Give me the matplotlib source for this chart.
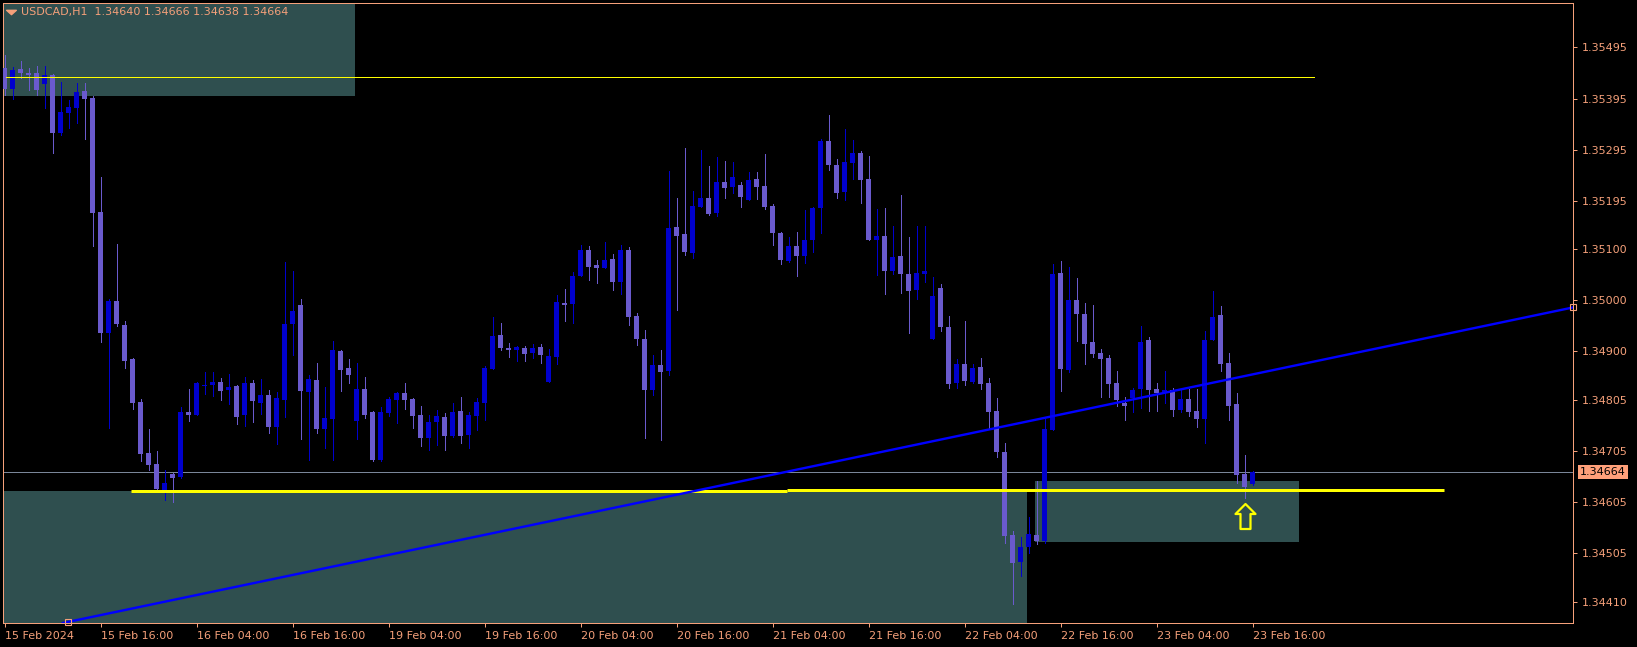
import matplotlib
matplotlib.use("Agg")
import matplotlib.pyplot as plt
import matplotlib.transforms as mtransforms
from matplotlib.path import Path
from matplotlib.patches import Rectangle
import numpy as np

# ---------------- data (USDCAD H1) ----------------
opens = [1.35455, 1.35414, 1.35453, 1.35445, 1.35445, 1.35424, 1.35441, 1.35328, 1.35367, 1.35377,
         1.35410, 1.35396, 1.35173, 1.34936, 1.34998, 1.34951, 1.34884, 1.34800, 1.34700, 1.34680,
         1.34628, 1.34659, 1.34654, 1.34781, 1.34775, 1.34833, 1.34835, 1.34839, 1.34824, 1.34833,
         1.34775, 1.34837, 1.34798, 1.34814, 1.34751, 1.34805, 1.34954, 1.34990, 1.34820, 1.34843,
         1.34747, 1.34767, 1.34900, 1.34867, 1.34763, 1.34826, 1.34781, 1.34688, 1.34779, 1.34804,
         1.34818, 1.34806, 1.34775, 1.34730, 1.34761, 1.34771, 1.34735, 1.34784, 1.34737, 1.34773,
         1.34798, 1.34865, 1.34931, 1.34906, 1.34902, 1.34906, 1.34896, 1.34908, 1.34839, 1.34888,
         1.34994, 1.34993, 1.35048, 1.35098, 1.35069, 1.35063, 1.35080, 1.35036, 1.35098, 1.34969,
         1.34924, 1.34824, 1.34873, 1.34861, 1.35143, 1.35129, 1.35092, 1.35182, 1.35200, 1.35171,
         1.35231, 1.35221, 1.35225, 1.35197, 1.35237, 1.35223, 1.35184, 1.35131, 1.35076, 1.35106,
         1.35087, 1.35118, 1.35181, 1.35312, 1.35265, 1.35212, 1.35268, 1.35288, 1.35237, 1.35118,
         1.35125, 1.35057, 1.35086, 1.35051, 1.35020, 1.35051, 1.34924, 1.35024, 1.34947, 1.34838,
         1.34875, 1.34840, 1.34869, 1.34837, 1.34784, 1.34702, 1.34541, 1.34487, 1.34517, 1.34541,
         1.34528, 1.34746, 1.35053, 1.34863, 1.35000, 1.34973, 1.34918, 1.34896, 1.34886, 1.34837,
         1.34799, 1.34808, 1.34826, 1.34922, 1.34826, 1.34818, 1.34824, 1.34785, 1.34806, 1.34784,
         1.34767, 1.34922, 1.34971, 1.34877, 1.34796, 1.34659, 1.34640]
highs = [1.35480, 1.35456, 1.35468, 1.35455, 1.35459, 1.35459, 1.35443, 1.35427, 1.35392, 1.35425,
         1.35425, 1.35400, 1.35241, 1.35003, 1.35110, 1.34959, 1.34886, 1.34806, 1.34747, 1.34704,
         1.34667, 1.34661, 1.34790, 1.34826, 1.34839, 1.34859, 1.34859, 1.34847, 1.34855, 1.34835,
         1.34849, 1.34843, 1.34845, 1.34824, 1.34820, 1.35075, 1.35057, 1.35002, 1.34853, 1.34878,
         1.34830, 1.34920, 1.34902, 1.34884, 1.34878, 1.34849, 1.34784, 1.34790, 1.34810, 1.34820,
         1.34837, 1.34808, 1.34792, 1.34775, 1.34786, 1.34779, 1.34798, 1.34810, 1.34781, 1.34808,
         1.34871, 1.34967, 1.34955, 1.34916, 1.34910, 1.34910, 1.34914, 1.34914, 1.34904, 1.35010,
         1.35022, 1.35055, 1.35108, 1.35106, 1.35078, 1.35114, 1.35090, 1.35108, 1.35104, 1.34975,
         1.34941, 1.34892, 1.34902, 1.35253, 1.35200, 1.35298, 1.35214, 1.35294, 1.35263, 1.35280,
         1.35272, 1.35270, 1.35231, 1.35251, 1.35251, 1.35286, 1.35188, 1.35133, 1.35124, 1.35133,
         1.35176, 1.35182, 1.35316, 1.35363, 1.35276, 1.35335, 1.35314, 1.35292, 1.35282, 1.35178,
         1.35180, 1.35145, 1.35206, 1.35124, 1.35145, 1.35145, 1.35045, 1.35031, 1.34969, 1.34884,
         1.34959, 1.34875, 1.34886, 1.34847, 1.34808, 1.34720, 1.34549, 1.34537, 1.34575, 1.34647,
         1.34767, 1.35071, 1.35076, 1.35065, 1.35043, 1.34994, 1.34990, 1.34904, 1.34892, 1.34861,
         1.34810, 1.34828, 1.34949, 1.34928, 1.34837, 1.34861, 1.34828, 1.34824, 1.34826, 1.34826,
         1.34939, 1.35018, 1.34988, 1.34896, 1.34818, 1.34696, 1.34666]
lows = [1.35402, 1.35395, 1.35435, 1.35412, 1.35402, 1.35377, 1.35289, 1.35324, 1.35338, 1.35348,
        1.35316, 1.35106, 1.34918, 1.34750, 1.34950, 1.34867, 1.34787, 1.34685, 1.34667, 1.34624,
        1.34608, 1.34604, 1.34651, 1.34763, 1.34775, 1.34816, 1.34812, 1.34805, 1.34797, 1.34757,
        1.34754, 1.34761, 1.34777, 1.34741, 1.34718, 1.34771, 1.34892, 1.34728, 1.34688, 1.34741,
        1.34710, 1.34688, 1.34822, 1.34837, 1.34728, 1.34769, 1.34686, 1.34686, 1.34773, 1.34759,
        1.34788, 1.34749, 1.34714, 1.34706, 1.34716, 1.34706, 1.34732, 1.34720, 1.34710, 1.34745,
        1.34765, 1.34865, 1.34902, 1.34888, 1.34882, 1.34882, 1.34886, 1.34878, 1.34839, 1.34875,
        1.34959, 1.34955, 1.35048, 1.35039, 1.35033, 1.35063, 1.35020, 1.35012, 1.34951, 1.34912,
        1.34730, 1.34814, 1.34726, 1.34853, 1.34980, 1.35089, 1.35083, 1.35182, 1.35167, 1.35165,
        1.35200, 1.35210, 1.35182, 1.35197, 1.35198, 1.35178, 1.35108, 1.35071, 1.35075, 1.35047,
        1.35073, 1.35095, 1.35132, 1.35255, 1.35200, 1.35197, 1.35237, 1.35191, 1.35118, 1.35049,
        1.35012, 1.35051, 1.35014, 1.34936, 1.35003, 1.35036, 1.34924, 1.34940, 1.34828, 1.34828,
        1.34834, 1.34838, 1.34826, 1.34750, 1.34693, 1.34524, 1.34406, 1.34460, 1.34505, 1.34522,
        1.34524, 1.34746, 1.34822, 1.34860, 1.34920, 1.34875, 1.34889, 1.34810, 1.34810, 1.34793,
        1.34765, 1.34781, 1.34789, 1.34783, 1.34783, 1.34799, 1.34773, 1.34781, 1.34773, 1.34752,
        1.34720, 1.34922, 1.34861, 1.34765, 1.34642, 1.34613, 1.34638]
closes = [1.35414, 1.35451, 1.35444, 1.35442, 1.35412, 1.35441, 1.35328, 1.35369, 1.35378, 1.35408,
          1.35395, 1.35171, 1.34936, 1.34998, 1.34954, 1.34881, 1.34799, 1.34699, 1.34677, 1.34631,
          1.34643, 1.34652, 1.34781, 1.34775, 1.34837, 1.34835, 1.34839, 1.34822, 1.34830, 1.34771,
          1.34837, 1.34802, 1.34814, 1.34751, 1.34808, 1.34953, 1.34978, 1.34822, 1.34845, 1.34747,
          1.34769, 1.34902, 1.34863, 1.34853, 1.34826, 1.34775, 1.34688, 1.34781, 1.34806, 1.34818,
          1.34804, 1.34773, 1.34730, 1.34761, 1.34773, 1.34735, 1.34782, 1.34735, 1.34775, 1.34800,
          1.34867, 1.34929, 1.34906, 1.34902, 1.34908, 1.34894, 1.34906, 1.34892, 1.34890, 1.34996,
          1.34990, 1.35047, 1.35098, 1.35065, 1.35063, 1.35078, 1.35036, 1.35098, 1.34967, 1.34924,
          1.34824, 1.34873, 1.34859, 1.35141, 1.35126, 1.35095, 1.35184, 1.35200, 1.35169, 1.35231,
          1.35220, 1.35241, 1.35202, 1.35235, 1.35221, 1.35182, 1.35131, 1.35078, 1.35106, 1.35086,
          1.35118, 1.35180, 1.35312, 1.35265, 1.35210, 1.35270, 1.35288, 1.35236, 1.35118, 1.35125,
          1.35057, 1.35084, 1.35051, 1.35018, 1.35053, 1.35057, 1.35008, 1.34948, 1.34836, 1.34875,
          1.34842, 1.34867, 1.34836, 1.34781, 1.34703, 1.34538, 1.34485, 1.34516, 1.34543, 1.34528,
          1.34747, 1.35051, 1.34865, 1.35000, 1.34973, 1.34914, 1.34895, 1.34885, 1.34836, 1.34805,
          1.34793, 1.34824, 1.34918, 1.34824, 1.34818, 1.34824, 1.34785, 1.34806, 1.34781, 1.34767,
          1.34922, 1.34967, 1.34875, 1.34793, 1.34658, 1.34635, 1.34664]

x_tick_bars = [0, 12, 24, 36, 48, 60, 72, 84, 96, 108, 120, 132, 144, 156]
x_tick_labels = ["15 Feb 2024", "15 Feb 16:00", "16 Feb 04:00", "16 Feb 16:00", "19 Feb 04:00",
                 "19 Feb 16:00", "20 Feb 04:00", "20 Feb 16:00", "21 Feb 04:00", "21 Feb 16:00",
                 "22 Feb 04:00", "22 Feb 16:00", "23 Feb 04:00", "23 Feb 16:00"]
y_ticks = [1.35495, 1.35395, 1.35295, 1.35195, 1.35100, 1.35000, 1.34900, 1.34805,
           1.34705, 1.34605, 1.34505, 1.34410]
y_tick_labels = ["%.5f" % v for v in y_ticks]

last_price = 1.34664
title = "USDCAD,H1  1.34640 1.34666 1.34638 1.34664"

# chart objects (bar index, price)
zone_top = (-5, 43.8, 1.35400, 1.3580)       # x1, x2, y_bottom, y_top
zone_bottom = (-5, 127.8, 1.3430, 1.34626)
zone_right = (128.8, 161.8, 1.34526, 1.34647)
hline_top = (0.2, 163.7, 1.35437)
support_left = (15.75, 97.8, 1.34626)
support_right = (97.8, 179.9, 1.34628)
trend_p1 = (7.9, 1.34370)
trend_p2 = (129.8, 1.34769)
arrow_pt = (155, 1.34577)

# ---------------- style ----------------
FG = "#F5A07A"
BULL = "#0000CD"
BEAR = "#6A5ACD"
ZONE = "#2F4F4F"

W, H = 1637, 647
fig = plt.figure(figsize=(W / 100, H / 100), dpi=100, facecolor="black")
ax = fig.add_axes([2.5 / W, 1 - 623 / H, (1573 - 2.5) / W, (623 - 2.5) / H])
ax.set_facecolor("black")
ax.set_xlim(-0.25, 196.06)
ax.set_ylim(1.34368, 1.35583)

px = 0.72  # one pixel in points

# zones
for (x1, x2, yb, yt) in (zone_top, zone_bottom, zone_right):
    ax.add_patch(Rectangle((x1, yb), x2 - x1, yt - yb, facecolor=ZONE, edgecolor="none", zorder=1))

# candles
o = np.array(opens); h = np.array(highs); l = np.array(lows); c = np.array(closes)
idx = np.arange(len(o))
bull = c >= o
cols = np.where(bull, BULL, BEAR)
ax.vlines(idx, l, h, colors=cols, linewidth=px, zorder=3, antialiased=False)
bottoms = np.minimum(o, c)
heights = np.maximum(np.abs(c - o), 0.00002)
ax.bar(idx, heights, bottom=bottoms, width=0.625, color=cols, linewidth=0, zorder=4, antialiased=False)

# lines
ax.plot([hline_top[0], hline_top[1]], [hline_top[2]] * 2, color="#FFFF00", lw=px, zorder=5, antialiased=False)
ax.axhline(last_price, color="#7A8699", lw=px, zorder=2)
for seg in (support_left, support_right):
    ax.plot([seg[0], seg[1]], [seg[2]] * 2, color="#FFFF00", lw=3 * px, zorder=6, solid_capstyle="butt")
ax.axline(trend_p1, trend_p2, color="#0000FF", lw=2.4 * px, zorder=6)
ax.plot([trend_p1[0]], [trend_p1[1]], marker="s", ms=4, mfc="none", mec=FG, mew=0.8, zorder=7, clip_on=False)
slope = (trend_p2[1] - trend_p1[1]) / (trend_p2[0] - trend_p1[0])
xr = ax.get_xlim()[1]
ax.plot([xr], [trend_p1[1] + slope * (xr - trend_p1[0])], marker="s", ms=4, mfc="none", mec=FG,
        mew=0.8, zorder=7, clip_on=False)

# up arrow
arrow_path = Path([(0, 1), (0.8, 0.2), (0.4, 0.2), (0.4, -1), (-0.4, -1), (-0.4, 0.2), (-0.8, 0.2), (0, 1)],
                  [Path.MOVETO] + [Path.LINETO] * 6 + [Path.CLOSEPOLY])
ax.plot([arrow_pt[0]], [arrow_pt[1]], marker=arrow_path, ms=18, mfc="none", mec="#FFFF00", mew=1.6, zorder=8)

# axes styling
for s in ax.spines.values():
    s.set_color(FG)
    s.set_linewidth(px)
ax.yaxis.tick_right()
ax.set_yticks(y_ticks)
ax.set_yticklabels(y_tick_labels)
ax.set_xticks(x_tick_bars)
ax.set_xticklabels(x_tick_labels, ha="left")
ax.tick_params(axis="both", colors=FG, labelcolor=FG, labelsize=8, length=3, width=px, direction="out")
ax.tick_params(axis="y", pad=3)
ax.tick_params(axis="x", pad=3)

# current price label
trans = mtransforms.blended_transform_factory(ax.transAxes, ax.transData)
ax.text(1.0045, last_price, "1.34664", transform=trans, ha="left", va="center", fontsize=8, color="black",
        zorder=10, clip_on=False,
        bbox=dict(boxstyle="square,pad=0.2", facecolor="#FFA07A", edgecolor="none"))

# title
tri = Path([(-1, 0.45), (1, 0.45), (0, -0.45), (-1, 0.45)], [Path.MOVETO, Path.LINETO, Path.LINETO, Path.CLOSEPOLY])
fig.lines.append(plt.Line2D([10.5 / W], [1 - 12 / H], marker=tri, ms=7, color=FG, mfc=FG, mec=FG,
                            transform=fig.transFigure))
fig.text(21 / W, 1 - 12.5 / H, title, color=FG, fontsize=8, ha="left", va="center")

fig.savefig("out.png", dpi=100, facecolor="black")
